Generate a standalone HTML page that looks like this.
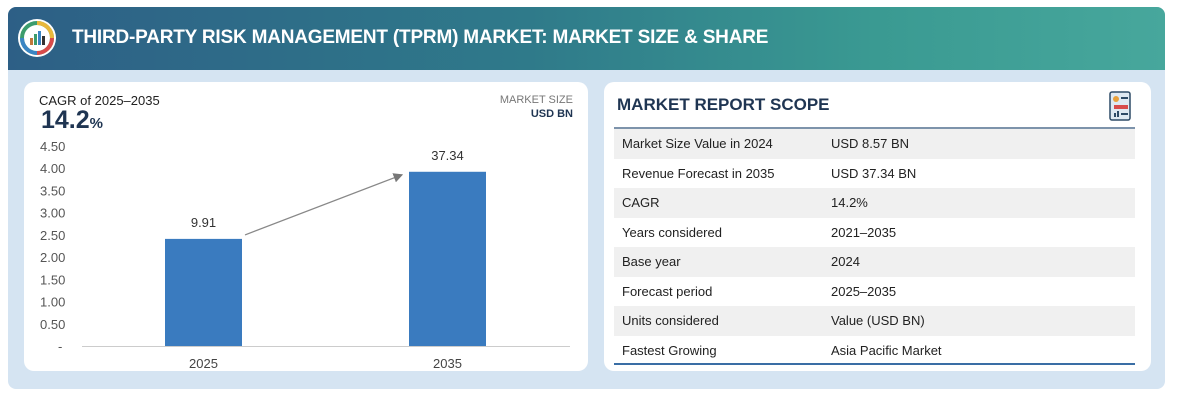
<!DOCTYPE html>
<html><head><meta charset="utf-8"><style>
body{margin:0;width:1177px;height:405px;background:#fff;font-family:"Liberation Sans",sans-serif;position:relative;overflow:hidden}
.abs{position:absolute}
#outer{left:8px;top:7px;width:1157px;height:382px;background:#d5e4f2;border-radius:8px;overflow:hidden}
#header{left:0;top:0;width:1157px;height:63px;background:linear-gradient(90deg,#2d5f86 0%,#2f7a8a 45%,#3a9a92 75%,#47a79c 100%)}
#title{left:64px;top:20px;color:#fff;font-weight:bold;font-size:19px;letter-spacing:-0.2px}
.card{background:#fff;border-radius:10px}
.row{position:absolute;left:614px;width:521px;height:29.5px;font-size:13px;color:#222;line-height:29.5px}
.row span{position:absolute}
.k{left:8px}.v{left:217px}
.g{background:#f0f0f0}
</style></head><body>
<div id="outer" class="abs">
 <div id="header" class="abs">
  <svg class="abs" style="left:9px;top:11px" width="40" height="40">
   <circle cx="20" cy="20" r="19" fill="#fff"/>
   <circle cx="20" cy="20" r="15" fill="none" stroke="#3c9c6d" stroke-width="4"/>
   <path d="M20 5 A15 15 0 0 1 35 20" fill="none" stroke="#e9b83b" stroke-width="4"/>
   <path d="M35 20 A15 15 0 0 1 20 35" fill="none" stroke="#d84b4b" stroke-width="4"/>
   <path d="M20 35 A15 15 0 0 1 5 20" fill="none" stroke="#3a85c4" stroke-width="4"/>
   <rect x="13" y="20" width="3" height="7" fill="#c0773a"/><rect x="17" y="16" width="3" height="11" fill="#3c9c6d"/><rect x="21" y="13" width="3" height="14" fill="#3a85c4"/><rect x="25" y="18" width="3" height="9" fill="#333"/>
  </svg>
  <div id="title" class="abs">THIRD-PARTY RISK MANAGEMENT (TPRM) MARKET: MARKET SIZE &amp; SHARE</div>
 </div>
</div>
<div class="abs card" style="left:24px;top:82px;width:564px;height:289px"></div>
<div class="abs" style="left:39px;top:93px;font-size:13px;color:#222">CAGR of 2025–2035</div>
<div class="abs" style="left:41px;top:106px;font-size:25px;font-weight:bold;color:#1f3552">14.2<span style="font-size:15px">%</span></div>
<div class="abs" style="left:460px;top:93px;width:113px;text-align:right;font-size:11px;color:#777;line-height:14px">MARKET SIZE<br><b style="color:#1f3552">USD BN</b></div>
<svg id="chart" class="abs" style="left:0;top:0" width="600" height="380"></svg>

<div class="abs card" style="left:604px;top:82px;width:547px;height:289px"></div>
<div class="abs" style="left:617px;top:95px;font-size:17px;font-weight:bold;color:#1f3552">MARKET REPORT SCOPE</div>
<svg class="abs" style="left:1109px;top:91px" width="22" height="30">
 <rect x="1" y="1" width="20" height="28" rx="2" fill="#dfe9f2" stroke="#2d4a66" stroke-width="1.5"/>
 <circle cx="7" cy="8" r="3" fill="#e9a03b"/><rect x="12" y="6" width="7" height="2" fill="#2d4a66"/><rect x="5" y="14" width="14" height="4" fill="#d84b4b"/><rect x="5" y="22" width="2" height="4" fill="#2d4a66"/><rect x="8" y="20" width="2" height="6" fill="#2d4a66"/><rect x="12" y="22" width="7" height="2" fill="#2d4a66"/>
</svg>
<div class="abs" style="left:614px;top:127px;width:521px;height:2px;background:#7d93ab"></div>
<div id="rows"></div>
<div class="abs" style="left:614px;top:363px;width:521px;height:2px;background:#3a6ea5"></div>

<script>
const categories=["2025","2035"];
const barValues=[2.41,3.92];
const valueLabels=["9.91","37.34"];
const yTicks=[0,0.5,1,1.5,2,2.5,3,3.5,4,4.5];
const yTickLabels=["-","0.50","1.00","1.50","2.00","2.50","3.00","3.50","4.00","4.50"];
const ns="http://www.w3.org/2000/svg";
const svg=document.getElementById('chart');
const y=v=>346-v*(200/4.5);
const x=i=>165+i*244;
const bw=77;
function mk(t,a){const e=document.createElementNS(ns,t);for(const k in a)e.setAttribute(k,a[k]);svg.appendChild(e);return e;}
const ax=mk('line',{x1:82,x2:570,y1:346.5,y2:346.5,stroke:'#ccc'});


yTicks.forEach((v,i)=>{const t=mk('text',{x:i==0?58:40,y:y(v)+5,'font-size':13,fill:'#555','font-family':'Liberation Sans'});t.textContent=yTickLabels[i];

});
const tops=[];
barValues.forEach((v,i)=>{const r=mk('rect',{x:x(i),y:y(v),width:bw,height:346-y(v),fill:'#3a7bbf'});


tops.push([x(i),y(v)]);
const l=mk('text',{x:x(i)+bw/2,y:y(v)-12,'font-size':13,fill:'#333','text-anchor':'middle','font-family':'Liberation Sans'});l.textContent=valueLabels[i];


const c=mk('text',{x:x(i)+bw/2,y:368,'font-size':13,fill:'#444','text-anchor':'middle','font-family':'Liberation Sans'});c.textContent=categories[i];

});
const d=mk('defs',{});d.innerHTML='<marker id="ah" markerWidth="8" markerHeight="8" refX="7" refY="4" orient="auto"><path d="M0,0 L8,4 L0,8 z" fill="#777"/></marker>';
const ar=mk('line',{x1:tops[0][0]+bw+3,y1:tops[0][1]-4,x2:tops[1][0]-7,y2:tops[1][1]+3,stroke:'#888','stroke-width':1.2,'marker-end':'url(#ah)'});


const rows=[["Market Size Value in 2024","USD 8.57 BN"],["Revenue Forecast in 2035","USD 37.34 BN"],["CAGR","14.2%"],["Years considered","2021–2035"],["Base year","2024"],["Forecast period","2025–2035"],["Units considered","Value (USD BN)"],["Fastest Growing","Asia Pacific Market"]];
const rc=document.getElementById('rows');
rows.forEach((r,i)=>{const d=document.createElement('div');d.className='row'+(i%2==0?' g':'');d.style.top=(129+i*29.5)+'px';


d.innerHTML='<span class="k">'+r[0]+'</span><span class="v">'+r[1]+'</span>';rc.appendChild(d);});
</script>
</body></html>
